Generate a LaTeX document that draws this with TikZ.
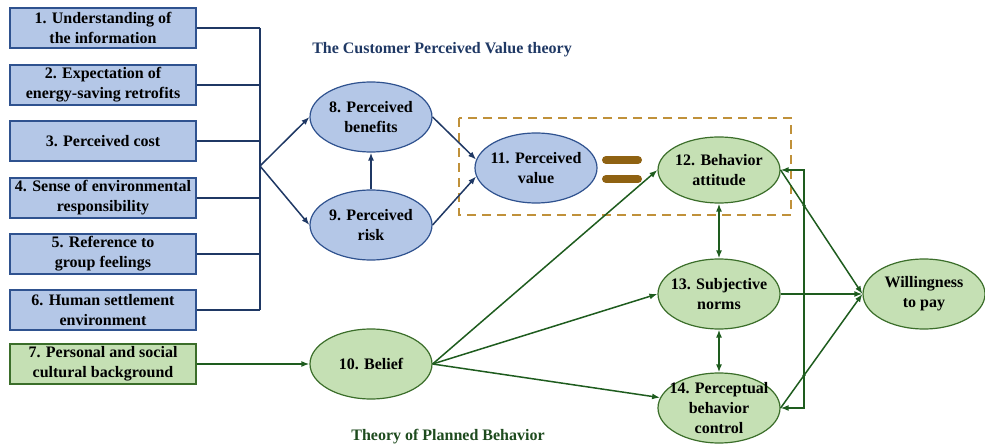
\documentclass[tikz,border=0pt]{standalone}
\usepackage{fontspec}
\setmainfont{Liberation Serif}
\usetikzlibrary{arrows.meta,shapes.geometric}
\definecolor{bfill}{HTML}{B4C7E7}
\definecolor{bdraw}{HTML}{2F528F}
\definecolor{bline}{HTML}{1F3864}
\definecolor{gfill}{HTML}{C5E0B4}
\definecolor{gdraw}{HTML}{3B6E2A}
\definecolor{gline}{HTML}{1E5C1E}
\definecolor{dashc}{HTML}{C0913A}
\definecolor{eqc}{HTML}{8F6212}
\definecolor{gtitle}{HTML}{1E4B1E}
\begin{document}
\begin{tikzpicture}[x=1pt,y=-1pt,
  txt/.style={font=\fontsize{16}{20}\selectfont\bfseries, align=center},
  bbox/.style={txt, rectangle, draw=bdraw, fill=bfill, line width=1.2pt, minimum width=186pt, minimum height=40pt, inner sep=0pt},
  gbox/.style={bbox, draw=gdraw, fill=gfill},
  bell/.style={txt, ellipse, draw=bdraw, fill=bfill, line width=1.2pt, minimum width=122pt, minimum height=70pt, inner sep=-12pt},
  gell/.style={bell, draw=gdraw, fill=gfill},
  barr/.style={draw=bline, line width=1.5pt, -{Latex[length=8pt,width=6pt]}},
  bln/.style={draw=bline, line width=1.5pt},
  garr/.style={draw=gline, line width=1.5pt, -{Latex[length=8pt,width=6pt]}},
  gdarr/.style={draw=gline, line width=1.5pt, {Latex[length=8pt,width=6pt]}-{Latex[length=8pt,width=6pt]}},
  gttl/.style={font=\fontsize{16}{20}\selectfont\bfseries, text=gtitle},
  bttl/.style={font=\fontsize{16}{20}\selectfont\bfseries, text=bline}]
\useasboundingbox (0,0) rectangle (985,446);

% left boxes
\node[bbox] (b1) at (103,28) {1. Understanding of\\the information};
\node[bbox] (b2) at (103,85) {2. Expectation of\\energy-saving retrofits};
\node[bbox] (b3) at (103,141) {3. Perceived cost};
\node[bbox] (b4) at (103,198) {4. Sense of environmental\\responsibility};
\node[bbox] (b5) at (103,254) {5. Reference to\\group feelings};
\node[bbox] (b6) at (103,310) {6. Human settlement\\environment};
\node[gbox] (b7) at (103,364) {7. Personal and social\\cultural background};

% titles
\node[bttl] (t1) at (442,50) {The Customer Perceived Value theory};
\node[gttl] (t2) at (448,437) {Theory of Planned Behavior};

% dashed frame
\draw[dashc, line width=1.5pt, dash pattern=on 9pt off 6pt] (459,118) rectangle (791,215);

% ellipses
\node[bell] (n8) at (371,117) {8. Perceived\\benefits};
\node[bell] (n9) at (371,225) {9. Perceived\\risk};
\node[bell] (n11) at (536,168) {11. Perceived\\value};
\node[gell] (n10) at (371,364) {10. Belief};
\node[gell, minimum height=66pt] (n12) at (719,170) {12. Behavior\\attitude};
\node[gell] (n13) at (719,294) {13. Subjective\\norms};
\node[gell] (n14) at (719,408) {14. Perceptual\\behavior\\control};
\node[gell] (w) at (924,294) {Willingness\\to pay};

% equals sign
\draw[eqc, line width=8pt, line cap=round] (606,160) -- (638,160);
\draw[eqc, line width=8pt, line cap=round] (606,179) -- (638,179);

% bus
\coordinate (J) at (260,166);
\foreach \b in {b1,b2,b3,b4,b5,b6}{\draw[bln] (\b.east) -- (\b.east -| J);}
\draw[bln] (b1.east -| J) -- (b6.east -| J);
\draw[barr] (J) -- (n8.west);
\draw[barr] (J) -- (n9.west);
\draw[barr] (n9.north) -- (n8.south);
\draw[barr] (n8.east) -- (n11.172);
\draw[barr] (n9.east) -- (n11.188);

% green connectors
\draw[garr] (b7.east) -- (n10.west);
\draw[garr] (n10.east) -- (n12.west);
\draw[garr] (n10.east) -- (n13.west);
\draw[garr] (n10.east) -- (n14.170);
\draw[gdarr] (n12.south) -- (n13.north);
\draw[gdarr] (n13.south) -- (n14.north);
\draw[garr] (n12.east) -- (w.west);
\draw[garr] (n13.east) -- (w.west);
\draw[garr] (n14.east) -- (w.west);
\coordinate (fb) at (804,0);
\draw[gdarr] (n12.east) -- (n12.east -| fb) -- (n14.east -| fb) -- (n14.east);
\fill[gline] (intersection of n12.east--w.west and fb--{804,400}) circle (1.8pt);
\fill[gline] (intersection of n14.east--w.west and fb--{804,400}) circle (1.8pt);
\fill[gline] (804,294) circle (1.8pt);
\end{tikzpicture}
\end{document}
